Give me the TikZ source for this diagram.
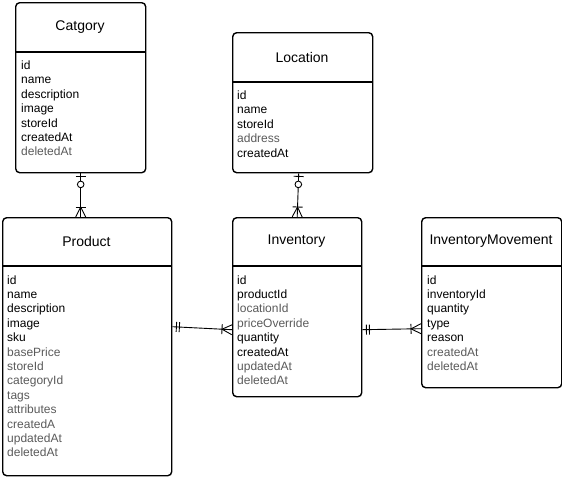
\documentclass[tikz,border=0pt]{standalone}
\usepackage{fontspec}
\setmainfont{Liberation Sans}
\usetikzlibrary{calc,decorations.markings}
\definecolor{fgray}{HTML}{5A5A5A}
\tikzset{
  entity/.style={draw, line width=1.4pt, rounded corners=4pt, anchor=north west, inner sep=0pt},
  divider/.style={line width=1.2pt},
  etitle/.style={font=\fontsize{14}{16}\selectfont, inner sep=0pt},
  field/.style={font=\fontsize{12}{14.4}\selectfont, inner sep=0pt, anchor=base west},
  conn/.style={line width=0.9pt},
  zeroone start/.style={postaction={decorate, decoration={markings,
      mark=at position 3pt with {\draw[line width=0.9pt] (0,-5pt) -- (0,5pt);},
      mark=at position 11pt with {\draw[line width=0.9pt, fill=white] (0,0) circle (3.3pt);}}}},
  onemany end/.style={postaction={decorate, decoration={markings,
      mark=at position -10pt with {\draw[line width=0.9pt] (0,-5pt) -- (0,5pt);
        \draw[line width=0.9pt] (10pt,-5pt) -- (0,0) -- (10pt,5pt);}}}},
  mandone start/.style={postaction={decorate, decoration={markings,
      mark=at position 4pt with {\draw[line width=0.9pt] (0,-5pt) -- (0,5pt);},
      mark=at position 7pt with {\draw[line width=0.9pt] (0,-5pt) -- (0,5pt);}}}},
}
\begin{document}
\begin{tikzpicture}[x=1pt,y=-1pt]
\useasboundingbox (0,0) rectangle (562,477);

% Catgory
\node[entity, minimum width=130pt, minimum height=170pt] (cat) at (15,2) {};
\draw[divider] (15,52) -- (145,52);
\node[etitle] (catT) at (80,27) {Catgory};
\foreach \t/\c [count=\i] in {id/black,name/black,description/black,image/black,storeId/black,createdAt/black,deletedAt/fgray}
  \node[field, text=\c] (cat-f\i) at (21,{69.5+(\i-1)*14.4}) {\t};

% Location
\node[entity, minimum width=140pt, minimum height=140pt] (loc) at (232,32) {};
\draw[divider] (232,82) -- (372,82);
\node[etitle] (locT) at (302,57) {Location};
\foreach \t/\c [count=\i] in {id/black,name/black,storeId/black,address/fgray,createdAt/black}
  \node[field, text=\c] (loc-f\i) at (237,{99.5+(\i-1)*14.4}) {\t};

% Product
\node[entity, minimum width=169pt, minimum height=258pt] (prod) at (2,217) {};
\draw[divider] (2,266) -- (171,266);
\node[etitle] (prodT) at (86.5,241.5) {Product};
\foreach \t/\c [count=\i] in {id/black,name/black,description/black,image/black,sku/black,basePrice/fgray,storeId/fgray,categoryId/fgray,tags/fgray,attributes/fgray,createdA/fgray,updatedAt/fgray,deletedAt/fgray}
  \node[field, text=\c] (prod-f\i) at (7,{284+(\i-1)*14.4}) {\t};

% Inventory
\node[entity, minimum width=129pt, minimum height=179pt] (inv) at (232,217) {};
\draw[divider] (232,266) -- (361,266);
\node[etitle] (invT) at (296.5,241.5) {Inventory};
\foreach \t/\c [count=\i] in {id/black,productId/black,locationId/fgray,priceOverride/fgray,quantity/black,createdAt/black,updatedAt/fgray,deletedAt/fgray}
  \node[field, text=\c] (inv-f\i) at (237,{284+(\i-1)*14.4}) {\t};

% InventoryMovement
\node[entity, minimum width=140pt, minimum height=170pt] (im) at (421,217) {};
\draw[divider] (421,266) -- (561,266);
\node[etitle] (imT) at (491,241.5) {InventoryMovement};
\foreach \t/\c [count=\i] in {id/black,inventoryId/black,quantity/black,type/black,reason/black,createdAt/fgray,deletedAt/fgray}
  \node[field, text=\c] (im-f\i) at (427,{284+(\i-1)*14.4}) {\t};

% Connectors
\draw[conn, zeroone start, onemany end] (cat.south) -- (cat.south |- prod.north);
\draw[conn, zeroone start, onemany end] ($(loc.south)+(-4,0)$) -- (inv.north);
\draw[conn, mandone start, onemany end] ($(prod.east)+(0,-20)$) -- ($(inv.west)+(0,22.5)$);
\draw[conn, mandone start, onemany end] ($(inv.east)+(0,22.5)$) -- ($(im.west)+(0,26)$);
\end{tikzpicture}
\end{document}
